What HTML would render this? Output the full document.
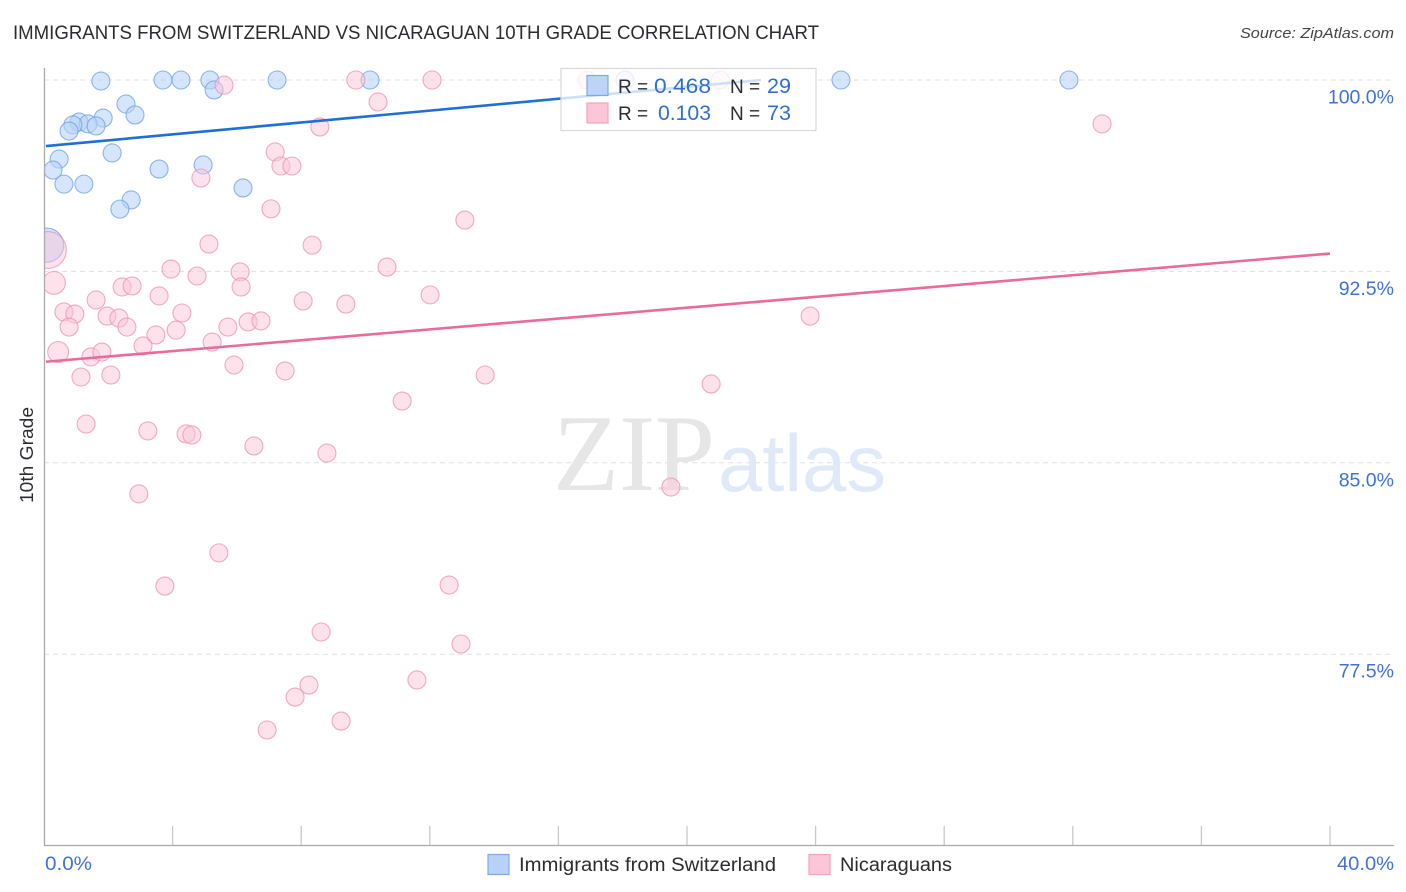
<!DOCTYPE html>
<html lang="en">
<head>
<meta charset="utf-8">
<title>Immigrants from Switzerland vs Nicaraguan 10th Grade Correlation Chart</title>
<style>
html,body{margin:0;padding:0;background:#fff;width:1406px;height:892px;overflow:hidden}
svg{display:block;font-family:"Liberation Sans",sans-serif}
</style>
</head>
<body>
<svg id="chart" xmlns="http://www.w3.org/2000/svg" width="1406" height="892" viewBox="0 0 1406 892">
  <text x="13" y="39" font-size="19" fill="#2b2b33" textLength="806" lengthAdjust="spacingAndGlyphs">IMMIGRANTS FROM SWITZERLAND VS NICARAGUAN 10TH GRADE CORRELATION CHART</text>
  <text x="1394" y="38" font-size="15" font-style="italic" fill="#444" text-anchor="end" textLength="154" lengthAdjust="spacingAndGlyphs">Source: ZipAtlas.com</text>

  <g id="grid"></g>

  <g>
    <text x="553" y="490" font-family="'Liberation Serif',serif" font-size="109" fill="#e6e6e6" textLength="162" lengthAdjust="spacingAndGlyphs">ZIP</text>
    <text x="718" y="491" font-size="81" fill="#dfe9f8" textLength="168" lengthAdjust="spacingAndGlyphs">atlas</text>
  </g>

  <g id="points"></g>
  <rect x="0" y="60" width="44.5" height="790" fill="#ffffff"/>
  <g id="axes"></g>
  <g id="trends"></g>
  <g id="tick-labels"></g>

  <text transform="translate(33,455) rotate(-90)" font-size="18.5" fill="#2b2b33" text-anchor="middle" textLength="96" lengthAdjust="spacingAndGlyphs">10th Grade</text>

  <g>
    <rect x="561" y="68.5" width="255" height="62" fill="#fff" fill-opacity="0.78" stroke="#d9d9d9" stroke-width="1.2"/>
    <rect x="587" y="75.5" width="21" height="20" fill="#b7d2f8" fill-opacity="0.95" stroke="#7fa9e3" stroke-width="1.2"/>
    <rect x="587" y="103" width="21" height="20" fill="#fcc5d8" stroke="#f2a3be" stroke-width="1.2"/>
    <text x="618" y="93" font-size="19" fill="#2b2b33">R =</text>
    <text x="711" y="93" font-size="21" fill="#2f6fd0" text-anchor="end" textLength="57" lengthAdjust="spacingAndGlyphs">0.468</text>
    <text x="730" y="93" font-size="19" fill="#2b2b33">N =</text>
    <text x="791" y="93" font-size="21" fill="#2f6fd0" text-anchor="end" textLength="24" lengthAdjust="spacingAndGlyphs">29</text>
    <text x="618" y="120" font-size="19" fill="#2b2b33">R =</text>
    <text x="711" y="120" font-size="21" fill="#2f6fd0" text-anchor="end" textLength="53" lengthAdjust="spacingAndGlyphs">0.103</text>
    <text x="730" y="120" font-size="19" fill="#2b2b33">N =</text>
    <text x="791" y="120" font-size="21" fill="#2f6fd0" text-anchor="end" textLength="24" lengthAdjust="spacingAndGlyphs">73</text>
  </g>

  <g>
    <rect x="488" y="854.5" width="21" height="20" fill="#b7d2f8" stroke="#7fa9e3" stroke-width="1.2"/>
    <text x="519" y="871" font-size="19" fill="#2b2b33" textLength="257" lengthAdjust="spacingAndGlyphs">Immigrants from Switzerland</text>
    <rect x="809" y="854.5" width="21" height="20" fill="#fcc5d8" stroke="#f2a3be" stroke-width="1.2"/>
    <text x="840" y="871" font-size="19" fill="#2b2b33" textLength="112" lengthAdjust="spacingAndGlyphs">Nicaraguans</text>
  </g>
</svg>
<script>
const yTickValues = [100, 92.5, 85, 77.5];
const yTickLabels = ['100.0%', '92.5%', '85.0%', '77.5%'];
const xTickValues = [0, 4, 8, 12, 16, 20, 24, 28, 32, 36, 40];
const xEndLabels = ['0.0%', '40.0%'];

const swissX = [1.77,3.70,4.26,5.16,5.29,7.25,10.14,18.07,24.79,31.88,2.55,2.83,1.84,1.09,1.37,1.62,0.90,0.78,0.47,0.28,0.62,1.24,2.12,3.58,4.95,6.19,2.71,2.36,0.08];
const swissY = [99.96,100,100,100,99.61,100,100,100,100,100,99.06,98.63,98.51,98.35,98.28,98.20,98.24,98.00,96.90,96.47,95.92,95.92,97.14,96.51,96.67,95.77,95.30,94.94,93.53];
const swissWeight = [1,1,1,1,1,1,1,1,1,1,1,1,1,1,1,1,1,1,1,1,1,1,1,1,1,1,1,1,3.6];

const nicaX = [5.60,9.70,12.07,16.89,21.03,10.39,8.58,32.91,7.19,7.37,7.71,4.88,7.06,13.09,5.13,8.34,0.12,0.31,3.95,4.76,6.10,10.67,6.13,2.43,2.74,3.58,1.62,8.06,9.39,12.01,0.62,0.96,1.96,2.33,4.29,23.83,0.78,2.58,4.11,5.72,6.35,6.75,3.48,3.08,5.23,0.44,1.46,1.80,5.91,7.50,1.15,2.08,13.72,20.75,11.14,1.31,3.23,4.42,4.60,6.53,8.80,2.95,19.50,5.44,3.76,12.60,8.62,12.97,11.60,8.24,7.81,9.24,6.94];
const nicaY = [99.80,100,100,100,100,99.14,98.16,98.28,97.18,96.63,96.63,96.16,94.95,94.51,93.57,93.53,93.34,92.05,92.59,92.32,92.48,92.67,91.89,91.89,91.93,91.54,91.38,91.34,91.22,91.58,90.91,90.83,90.75,90.67,90.87,90.75,90.32,90.32,90.20,90.32,90.52,90.56,90.01,89.58,89.73,89.34,89.15,89.34,88.83,88.60,88.36,88.44,88.44,88.09,87.42,86.52,86.25,86.13,86.09,85.66,85.38,83.78,84.05,81.47,80.17,80.21,78.37,77.90,76.49,76.29,75.82,74.88,74.53];
const nicaWeight = [1,1,1,1,1,1,1,1,1,1,1,1,1,1,1,1,4.2,1.6,1,1,1,1,1,1,1,1,1,1,1,1,1,1,1,1,1,1,1,1,1,1,1,1,1,1,1,1.35,1,1,1,1,1,1,1,1,1,1,1,1,1,1,1,1,1,1,1,1,1,1,1,1,1,1,1];

const swissTrendX = [0.06, 22.3];
const swissTrendY = [97.41, 100];
const nicaTrendX = [0.06, 40];
const nicaTrendY = [88.96, 93.2];

const NS = 'http://www.w3.org/2000/svg';
const xAxis = v => 44 + v * 32.15;
const yAxis = v => 80 + (100 - v) * 25.52;
const radius = w => 9 * Math.sqrt(w);

function make(tag, attrs, parent) {
  const el = document.createElementNS(NS, tag);
  for (const k in attrs) el.setAttribute(k, attrs[k]);
  parent.appendChild(el);
  return el;
}

const gridG = document.getElementById('grid');
yTickValues.forEach(v => {
  const line = make('line', {x1: 44, x2: 1394, y1: yAxis(v), y2: yAxis(v), stroke: '#e0e0e0', 'stroke-width': 1, 'stroke-dasharray': '5 4'}, gridG);
  
  
});

const axesG = document.getElementById('axes');
xTickValues.slice(1).forEach(v => {
  const tick = make('line', {x1: xAxis(v), x2: xAxis(v), y1: 826, y2: 846, stroke: '#c8c8c8', 'stroke-width': 1.3}, axesG);
  
  
});
const yAxisLine = make('line', {x1: 44.5, x2: 44.5, y1: 68, y2: 846, stroke: '#aaaaaa', 'stroke-width': 1.3}, axesG);


const xAxisLine = make('line', {x1: 44, x2: 1394, y1: 845.5, y2: 845.5, stroke: '#aaaaaa', 'stroke-width': 1.3}, axesG);



const pointsG = document.getElementById('points');
swissX.forEach((x, i) => {
  const c = make('circle', {cx: xAxis(x), cy: yAxis(swissY[i]), r: radius(swissWeight[i]), fill: '#b7d2f8', 'fill-opacity': 0.58, stroke: '#6c9fe3', 'stroke-opacity': 0.75, 'stroke-width': 1.1}, pointsG);
  
  
});
nicaX.forEach((x, i) => {
  const c = make('circle', {cx: xAxis(x), cy: yAxis(nicaY[i]), r: radius(nicaWeight[i]), fill: '#fcc5d8', 'fill-opacity': 0.5, stroke: '#ee8fb0', 'stroke-opacity': 0.75, 'stroke-width': 1.1}, pointsG);
  
  
});

const trendsG = document.getElementById('trends');
const swissLine = make('line', {x1: xAxis(swissTrendX[0]), y1: yAxis(swissTrendY[0]), x2: xAxis(swissTrendX[1]), y2: yAxis(swissTrendY[1]), stroke: '#1f6fd6', 'stroke-width': 2.6}, trendsG);


const nicaLine = make('line', {x1: xAxis(nicaTrendX[0]), y1: yAxis(nicaTrendY[0]), x2: xAxis(nicaTrendX[1]), y2: yAxis(nicaTrendY[1]), stroke: '#ea6b9b', 'stroke-width': 2.6}, trendsG);



const labelsG = document.getElementById('tick-labels');
yTickValues.forEach((v, i) => {
  const t = make('text', {x: 1394, y: yAxis(v) + 23.5, 'font-size': 19.5, fill: '#3f72d4', 'text-anchor': 'end'}, labelsG);
  
  
  t.textContent = yTickLabels[i];
});
const xStart = make('text', {x: 45, y: 870, 'font-size': 19.5, fill: '#3f72d4', textLength: 47, lengthAdjust: 'spacingAndGlyphs'}, labelsG);


xStart.textContent = xEndLabels[0];
const xEnd = make('text', {x: 1394, y: 870, 'font-size': 19.5, fill: '#3f72d4', 'text-anchor': 'end', textLength: 57, lengthAdjust: 'spacingAndGlyphs'}, labelsG);


xEnd.textContent = xEndLabels[1];
</script>
</body>
</html>
